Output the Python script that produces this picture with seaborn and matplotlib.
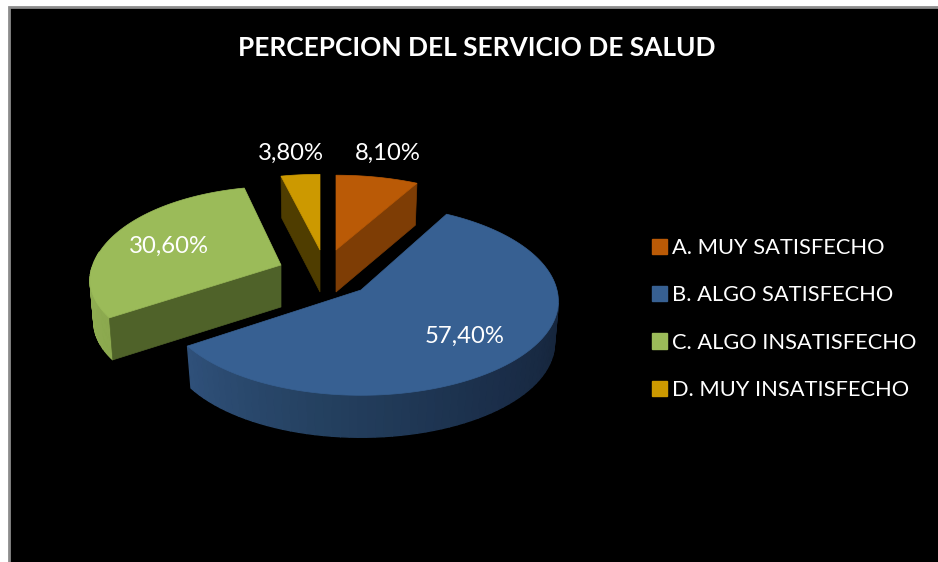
from __future__ import annotations

import matplotlib.pyplot as plt
import numpy as np
import seaborn as sns
from matplotlib.patches import Patch, Polygon, Rectangle

categories = ["A. MUY SATISFECHO", "B. ALGO SATISFECHO", "C. ALGO INSATISFECHO", "D. MUY INSATISFECHO"]
values = [8.1, 57.4, 30.6, 3.8]
title = "PERCEPCION DEL SERVICIO DE SALUD"

top_colors = ["#BA5A06", "#376092", "#9BBB59", "#CC9900"]
cut_colors = ["#7E3D05", "#24405F", "#4F6229", "#4F3D00"]

# placement of each exploded slice on the canvas, in reference pixels
slices = [
    {"apex": (336, 250), "rx": 191, "back": 88, "front": 88, "persp": 0.15, "label": (388, 153)},
    {"apex": (361, 290), "rx": 196, "back": 97, "front": 94, "persp": 0.12, "label": (465, 336)},
    {"apex": (281, 265), "rx": 188, "back": 96, "front": 86, "persp": 0.18, "label": (169, 246)},
    {"apex": (320, 250), "rx": 193, "back": 89, "front": 89, "persp": 0.15, "label": (291, 153)},
]
DEPTH = 42
WALL_SHRINK = 0.98


def rim(s, theta):
    """Top-face point of slice s at clockwise angle theta (degrees from the top)."""
    t = np.radians(theta)
    f = 1 - s["persp"] * np.cos(t)
    ry = np.where(np.cos(t) > 0, s["back"], s["front"])
    return s["apex"][0] + s["rx"] * np.sin(t) * f, s["apex"][1] - ry * np.cos(t) * f


def lower(s, x, y):
    return s["apex"][0] + (x - s["apex"][0]) * WALL_SHRINK, y + DEPTH


def draw_cut(ax, s, theta, color):
    x, y = rim(s, theta)
    bx, by = lower(s, x, y)
    ax.add_patch(Polygon([s["apex"], (x, y), (bx, by), (s["apex"][0], s["apex"][1] + DEPTH)],
                         closed=True, fc=color, ec=color, lw=0.5))


def draw_wall(ax, s, start, end, colors):
    edges = np.linspace(start, end, len(colors) + 1)
    for a, b, c in zip(edges[:-1], edges[1:], colors):
        xa, ya = rim(s, a)
        xb, yb = rim(s, b)
        lxa, lya = lower(s, xa, ya)
        lxb, lyb = lower(s, xb, yb)
        ax.add_patch(Polygon([(xa, ya), (xb, yb), (lxb, lyb), (lxa, lya)],
                             closed=True, fc=c, ec=c, lw=1.0))


def draw_top(ax, s, start, end, color):
    theta = np.linspace(start, end, 160)
    x, y = rim(s, theta)
    pts = [s["apex"]] + list(zip(x, y))
    ax.add_patch(Polygon(pts, closed=True, fc=color, ec=color, lw=0.5))


sns.set_theme(style="white")
plt.rcParams["font.family"] = ["Lato", "DejaVu Sans"]

fig, ax = plt.subplots(figsize=(9.38, 5.62), dpi=100)
ax.set_position([0, 0, 1, 1])
ax.set_xlim(0, 938)
ax.set_ylim(562, 0)
ax.axis("off")
fig.patch.set_facecolor("white")
ax.add_patch(Rectangle((9, 7), 935, 560, fc="black", ec="#8c8c8c", lw=2))

share = np.array(values) / sum(values) * 360
ends = np.cumsum(share)
starts = ends - share

# back to front, so nearer slices cover the farther ones
draw_cut(ax, slices[3], starts[3], cut_colors[3])
draw_top(ax, slices[3], starts[3], ends[3], top_colors[3])
draw_cut(ax, slices[0], ends[0], cut_colors[0])
draw_top(ax, slices[0], starts[0], ends[0], top_colors[0])

draw_wall(ax, slices[2], starts[2], 278, sns.blend_palette(["#8CA94F", "#8FAE52"], 30))
draw_cut(ax, slices[2], starts[2], cut_colors[2])
draw_top(ax, slices[2], starts[2], ends[2], top_colors[2])

draw_wall(ax, slices[1], 98, ends[1], sns.blend_palette(["#15243A", "#1B2F4B", "#24405F", "#2F5079"], 60))
draw_top(ax, slices[1], starts[1], ends[1], top_colors[1])

for s, v in zip(slices, values):
    ax.text(*s["label"], f"{v:.2f}".replace(".", ",") + "%", color="white", fontsize=17.2,
            ha="center", va="center")

ax.text(477, 48, title, color="white", fontsize=18.9, fontweight="bold", ha="center", va="center")

handles = [Patch(fc=c, ec=c) for c in top_colors]
ax.legend(handles, categories, loc="center left", bbox_to_anchor=(652 / 938, 1 - 319 / 562), frameon=False,
          fontsize=15.75, labelcolor="white", handlelength=0.68, handleheight=0.68, handletextpad=0.24,
          labelspacing=1.25, borderpad=0, borderaxespad=0)

fig.savefig("out.png", dpi=100, facecolor="white")
plt.close(fig)
